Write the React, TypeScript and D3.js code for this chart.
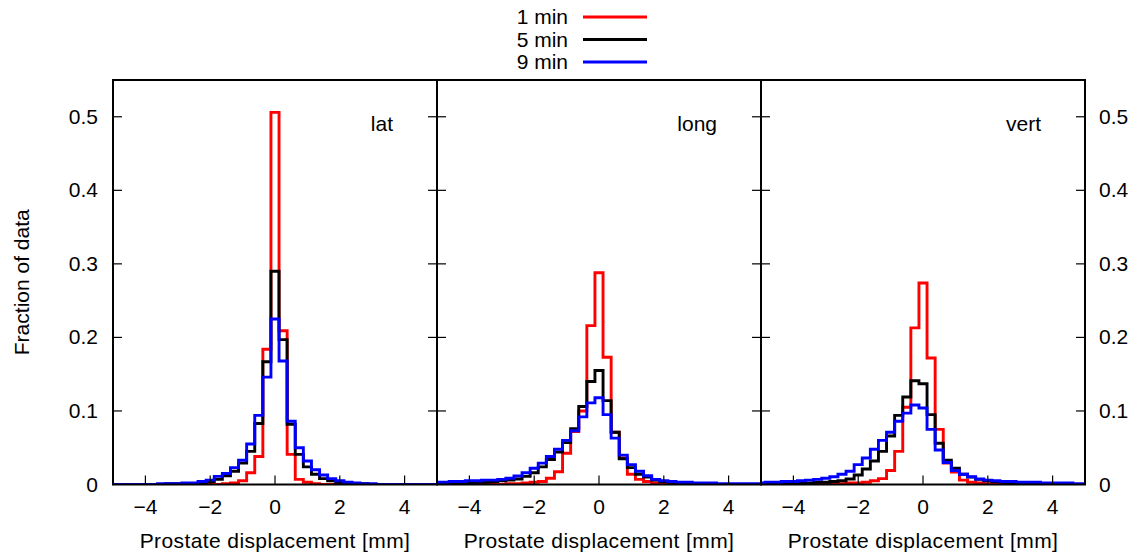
import React from "react";
import * as d3 from "d3";

// bin centres k*0.25 for k = -20..20
const binIndex = d3.range(-20, 21);
const binWidth = 0.25;

const panels = ["lat", "long", "vert"];
const seriesNames = ["1 min", "5 min", "9 min"];
const seriesColors = ["#ff0000", "#000000", "#0000ff"];

// lat
const lat1 = [0,0,0,0,0,0,0,0,0,0,0,0,0,0,0.001,0.002,0.005,0.016,0.038,0.184,0.506,0.209,0.041,0.007,0.003,0.001,0,0,0,0,0,0,0,0,0,0,0,0,0,0,0];
const lat5 = [0,0,0,0,0,0,0,0.001,0.001,0.001,0.001,0.002,0.004,0.007,0.012,0.018,0.029,0.045,0.083,0.167,0.29,0.197,0.082,0.041,0.024,0.014,0.008,0.005,0.003,0.002,0.001,0.001,0,0,0,0,0,0,0,0,0];
const lat9 = [0,0,0,0,0,0,0.001,0.001,0.001,0.002,0.002,0.004,0.006,0.011,0.015,0.023,0.033,0.055,0.094,0.146,0.225,0.168,0.086,0.05,0.032,0.02,0.013,0.008,0.005,0.003,0.002,0.001,0.001,0,0,0,0,0,0,0,0];
// long
const long1 = [0,0,0,0,0,0,0,0,0,0.001,0.001,0.002,0.003,0.004,0.0084,0.0174,0.0425,0.072,0.1,0.216,0.288,0.173,0.071,0.036,0.014,0.007,0.004,0.002,0.001,0.001,0,0,0,0,0,0,0,0,0,0,0];
const long5 = [0.001,0.001,0.001,0.002,0.002,0.003,0.003,0.004,0.005,0.006,0.0075,0.011,0.016,0.024,0.034,0.044,0.057,0.076,0.106,0.14,0.155,0.114,0.071,0.035,0.023,0.014,0.01,0.006,0.004,0.003,0.002,0.002,0.001,0.001,0.001,0,0,0,0,0,0];
const long9 = [0.003,0.003,0.004,0.004,0.005,0.005,0.006,0.006,0.007,0.0084,0.0116,0.016,0.022,0.029,0.038,0.048,0.06,0.073,0.092,0.111,0.118,0.095,0.063,0.04,0.027,0.018,0.012,0.007,0.005,0.004,0.003,0.003,0.002,0.002,0.002,0.001,0.001,0.001,0.001,0.001,0.001];
// vert
const vert1 = [0,0,0,0,0,0,0,0,0,0.001,0.001,0.002,0.002,0.003,0.005,0.008,0.019,0.045,0.105,0.213,0.274,0.172,0.075,0.029,0.017,0.006,0.003,0.002,0.001,0.001,0,0,0,0,0,0,0,0,0,0,0];
const vert5 = [0.001,0.001,0.001,0.001,0.001,0.002,0.002,0.003,0.003,0.004,0.005,0.0075,0.013,0.021,0.032,0.045,0.066,0.094,0.119,0.141,0.137,0.095,0.056,0.033,0.022,0.014,0.01,0.007,0.005,0.004,0.003,0.002,0.002,0.002,0.001,0.001,0,0,0,0,0];
const vert9 = [0.002,0.003,0.003,0.004,0.004,0.005,0.006,0.007,0.0084,0.0106,0.014,0.018,0.027,0.036,0.048,0.06,0.071,0.086,0.097,0.108,0.104,0.075,0.047,0.03,0.019,0.014,0.0106,0.0075,0.006,0.005,0.004,0.004,0.003,0.003,0.003,0.002,0.002,0.002,0.002,0.001,0.001];

const panelData = [
  [lat1, lat5, lat9],
  [long1, long5, long9],
  [vert1, vert5, vert9],
];

const xTicks = [-4, -2, 0, 2, 4];
const yTicks = [0, 0.1, 0.2, 0.3, 0.4, 0.5];

const W = 1137;
const H = 554;
const plotLeft = 113;
const panelW = 324;
const plotTop = 80;
const plotBottom = 484.5;
const FONT = "'Liberation Sans', Arial, sans-serif";
const FS = 21;

export default function App() {
  const y = d3.scaleLinear().domain([0, 0.55]).range([plotBottom, plotTop]);
  const fmtY = (v: number) => (v === 0 ? "0" : d3.format(".1f")(v));
  const fmtX = (v: number) => (v < 0 ? "\u2212" + Math.abs(v) : String(v));

  return (
    <svg
      width={W}
      height={H}
      style={{ position: "absolute", left: 0, top: 0, background: "#fff" }}
      fontFamily={FONT}
    >
      <defs>
        {panels.map((p, pi) => (
          <clipPath id={`clip-${p}`} key={p}>
            <rect x={plotLeft + pi * panelW} y={plotTop} width={panelW} height={plotBottom - plotTop} />
          </clipPath>
        ))}
      </defs>

      {panels.map((p, pi) => {
        const x0 = plotLeft + pi * panelW;
        const x = d3.scaleLinear().domain([-5, 5]).range([x0, x0 + panelW]);
        const line = d3
          .line<[number, number]>()
          .x((d) => x(d[0]))
          .y((d) => y(d[1]));
        return (
          <g key={p}>
            <g clipPath={`url(#clip-${p})`}>
              {panelData[pi].map((vals, si) => {
                const pts: [number, number][] = [];
                binIndex.forEach((k, i) => {
                  const c = k * binWidth;
                  pts.push([c - binWidth / 2, vals[i]]);
                  pts.push([c + binWidth / 2, vals[i]]);
                });
                return (
                  <path
                    key={si}
                    d={line(pts) || ""}
                    fill="none"
                    stroke={seriesColors[si]}
                    strokeWidth={2.9}
                    strokeLinejoin="miter"
                  />
                );
              })}
            </g>
            {xTicks.map((t) => (
              <g key={t}>
                <line x1={x(t)} x2={x(t)} y1={plotBottom} y2={plotBottom - 9} stroke="#000" strokeWidth={1.2} />
                <text x={x(t)} y={plotBottom + 29} textAnchor="middle" fontSize={FS} fill="#000">
                  {fmtX(t)}
                </text>
              </g>
            ))}
            {yTicks.slice(1).map((t) => (
              <g key={t}>
                <line x1={x0} x2={x0 + 9} y1={y(t)} y2={y(t)} stroke="#000" strokeWidth={1.2} />
                <line x1={x0 + panelW - 9} x2={x0 + panelW} y1={y(t)} y2={y(t)} stroke="#000" strokeWidth={1.2} />
              </g>
            ))}
            <text
              x={x0 + panelW / 2}
              y={plotBottom + 63}
              textAnchor="middle"
              fontSize={FS}
              letterSpacing={0.4}
              fill="#000"
            >
              Prostate displacement [mm]
            </text>
            <text x={x0 + panelW - 44} y={y(0.5) + 14} textAnchor="end" fontSize={FS} fill="#000">
              {p}
            </text>
            <rect
              x={x0}
              y={plotTop}
              width={panelW}
              height={plotBottom - plotTop}
              fill="none"
              stroke="#000"
              strokeWidth={2}
            />
          </g>
        );
      })}

      {yTicks.map((t) => (
        <g key={t}>
          <text x={plotLeft - 15} y={y(t) + 7} textAnchor="end" fontSize={FS} fill="#000">
            {fmtY(t)}
          </text>
          <text x={plotLeft + 3 * panelW + 14} y={y(t) + 7} textAnchor="start" fontSize={FS} fill="#000">
            {fmtY(t)}
          </text>
        </g>
      ))}

      <text
        transform={`translate(29, ${(plotTop + plotBottom) / 2}) rotate(-90)`}
        textAnchor="middle"
        fontSize={FS}
        fill="#000"
      >
        Fraction of data
      </text>

      {seriesNames.map((s, i) => {
        const ly = 17 + i * 22.5;
        return (
          <g key={s}>
            <text x={568} y={ly + 7} textAnchor="end" fontSize={FS} fill="#000">
              {s}
            </text>
            <line x1={583} x2={647} y1={ly} y2={ly} stroke={seriesColors[i]} strokeWidth={2.9} />
          </g>
        );
      })}
    </svg>
  );
}
